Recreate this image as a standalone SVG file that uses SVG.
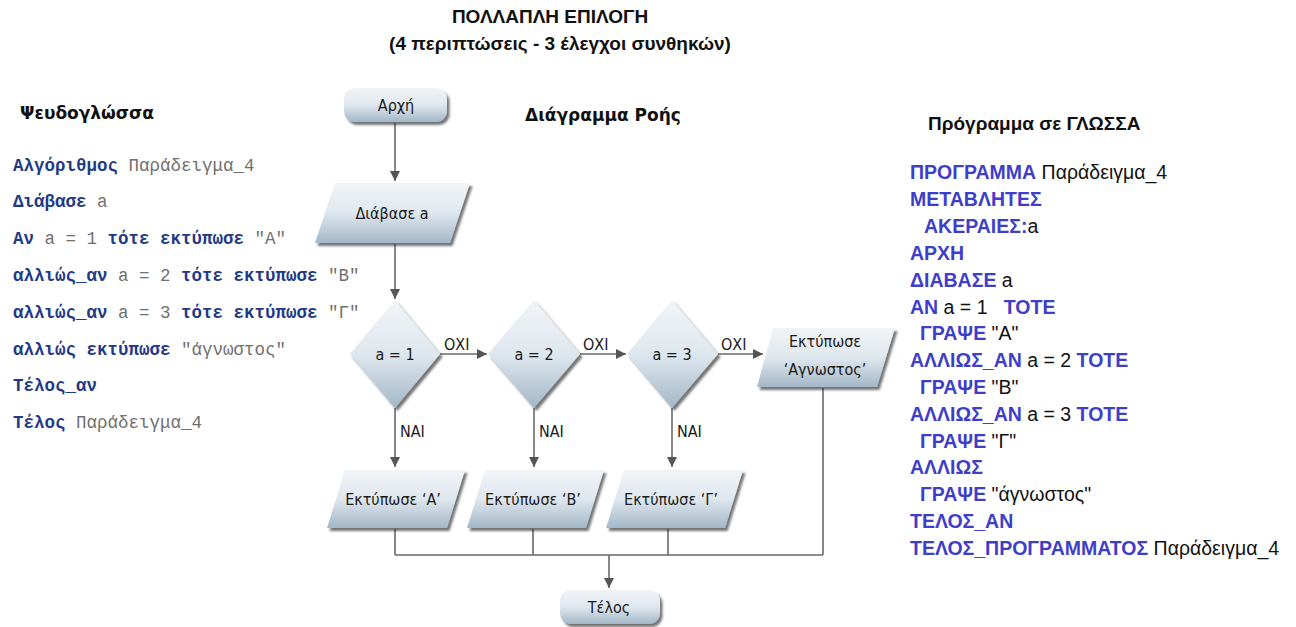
<svg xmlns="http://www.w3.org/2000/svg" width="1296" height="627" viewBox="0 0 1296 627">
<style>
.title{font-family:"Liberation Sans",Arial,sans-serif;font-weight:bold;font-size:19px;fill:#111;}
.head{font-family:"DejaVu Sans",Verdana,sans-serif;font-weight:bold;font-size:17px;fill:#111;}
.ps{font-family:"Liberation Mono","Courier New",monospace;font-size:17.5px;white-space:pre;}
.pk{fill:#1f3a86;font-weight:bold;}
.pv{fill:#707070;}
.gl{font-family:"Liberation Sans",Arial,sans-serif;font-size:19.5px;fill:#111;white-space:pre;}
.gk{fill:#3e3ec8;font-weight:bold;}
.lbl{font-family:"Liberation Sans Narrow","DejaVu Sans Condensed","Liberation Sans",sans-serif;font-stretch:condensed;font-size:16px;fill:#1a1a1a;text-anchor:middle;}
.edge{font-family:"Liberation Sans Narrow","DejaVu Sans Condensed","Liberation Sans",sans-serif;font-stretch:condensed;font-size:16px;fill:#1a1a1a;}
.shape{fill:url(#g);filter:url(#sh);}
.line{stroke:#6a6a6a;stroke-width:1.6;fill:none;}
</style>
<defs>
<linearGradient id="g" x1="0" y1="0" x2="0" y2="1">
<stop offset="0" stop-color="#f1f4f7"/>
<stop offset="0.5" stop-color="#dfe7ee"/>
<stop offset="1" stop-color="#a3b7c7"/>
</linearGradient>
<filter id="sh" x="-20%" y="-20%" width="140%" height="150%">
<feDropShadow dx="2.5" dy="3" stdDeviation="1.2" flood-color="#2a2a2a" flood-opacity="0.65"/>
</filter>
<marker id="ah" viewBox="0 0 10 10" refX="10" refY="5" markerWidth="10" markerHeight="10" markerUnits="userSpaceOnUse" orient="auto">
<path d="M0,0 L10,5 L0,10 Z" fill="#555"/>
</marker>
</defs>

<text class="title" x="550" y="23" text-anchor="middle">ΠΟΛΛΑΠΛΗ ΕΠΙΛΟΓΗ</text>
<text class="title" x="560" y="50" text-anchor="middle">(4 περιπτώσεις - 3 έλεγχοι συνθηκών)</text>

<text class="head" x="20" y="119">Ψευδογλώσσα</text>
<text class="head" x="525" y="121">Διάγραμμα Ροής</text>
<text class="title" x="928" y="130">Πρόγραμμα σε ΓΛΩΣΣΑ</text>

<g id="pseudocode">
<text class="ps" x="13" y="171"><tspan class="pk">Αλγόριθμος</tspan><tspan class="pv"> Παράδειγμα_4</tspan></text>
<text class="ps" x="13" y="207"><tspan class="pk">Διάβασε</tspan><tspan class="pv"> a</tspan></text>
<text class="ps" x="13" y="244"><tspan class="pk">Αν</tspan><tspan class="pv"> a = 1 </tspan><tspan class="pk">τότε εκτύπωσε</tspan><tspan class="pv"> "Α"</tspan></text>
<text class="ps" x="13" y="281"><tspan class="pk">αλλιώς_αν</tspan><tspan class="pv"> a = 2 </tspan><tspan class="pk">τότε εκτύπωσε</tspan><tspan class="pv"> "Β"</tspan></text>
<text class="ps" x="13" y="318"><tspan class="pk">αλλιώς_αν</tspan><tspan class="pv"> a = 3 </tspan><tspan class="pk">τότε εκτύπωσε</tspan><tspan class="pv"> "Γ"</tspan></text>
<text class="ps" x="13" y="355"><tspan class="pk">αλλιώς εκτύπωσε</tspan><tspan class="pv"> "άγνωστος"</tspan></text>
<text class="ps" x="13" y="391"><tspan class="pk">Τέλος_αν</tspan></text>
<text class="ps" x="13" y="428"><tspan class="pk">Τέλος</tspan><tspan class="pv"> Παράδειγμα_4</tspan></text>
</g>

<g id="glossa">
<text class="gl" x="910" y="179"><tspan class="gk">ΠΡΟΓΡΑΜΜΑ</tspan> Παράδειγμα_4</text>
<text class="gl" x="910" y="206"><tspan class="gk">ΜΕΤΑΒΛΗΤΕΣ</tspan></text>
<text class="gl" x="924" y="233"><tspan class="gk">ΑΚΕΡΑΙΕΣ:</tspan>a</text>
<text class="gl" x="910" y="260"><tspan class="gk">ΑΡΧΗ</tspan></text>
<text class="gl" x="910" y="287"><tspan class="gk">ΔΙΑΒΑΣΕ</tspan> a</text>
<text class="gl" x="910" y="314"><tspan class="gk">ΑΝ</tspan> a = 1   <tspan class="gk">ΤΟΤΕ</tspan></text>
<text class="gl" x="920" y="340"><tspan class="gk">ΓΡΑΨΕ</tspan> "Α"</text>
<text class="gl" x="910" y="367"><tspan class="gk">ΑΛΛΙΩΣ_ΑΝ</tspan> a = 2 <tspan class="gk">ΤΟΤΕ</tspan></text>
<text class="gl" x="920" y="394"><tspan class="gk">ΓΡΑΨΕ</tspan> "Β"</text>
<text class="gl" x="910" y="421"><tspan class="gk">ΑΛΛΙΩΣ_ΑΝ</tspan> a = 3 <tspan class="gk">ΤΟΤΕ</tspan></text>
<text class="gl" x="920" y="448"><tspan class="gk">ΓΡΑΨΕ</tspan> "Γ"</text>
<text class="gl" x="910" y="474"><tspan class="gk">ΑΛΛΙΩΣ</tspan></text>
<text class="gl" x="920" y="501"><tspan class="gk">ΓΡΑΨΕ</tspan> "άγνωστος"</text>
<text class="gl" x="910" y="528"><tspan class="gk">ΤΕΛΟΣ_ΑΝ</tspan></text>
<text class="gl" x="910" y="555"><tspan class="gk">ΤΕΛΟΣ_ΠΡΟΓΡΑΜΜΑΤΟΣ</tspan> Παράδειγμα_4</text>
</g>

<g id="connectors">
<line class="line" x1="395" y1="123" x2="395" y2="181" marker-end="url(#ah)"/>
<line class="line" x1="395" y1="244" x2="395" y2="299" marker-end="url(#ah)"/>
<line class="line" x1="440" y1="354" x2="487" y2="354" marker-end="url(#ah)"/>
<line class="line" x1="580" y1="354" x2="626" y2="354" marker-end="url(#ah)"/>
<line class="line" x1="718" y1="354" x2="763" y2="354" marker-end="url(#ah)"/>
<line class="line" x1="395" y1="408" x2="395" y2="467" marker-end="url(#ah)"/>
<line class="line" x1="534" y1="408" x2="534" y2="467" marker-end="url(#ah)"/>
<line class="line" x1="672" y1="408" x2="672" y2="467" marker-end="url(#ah)"/>
<path class="line" d="M395,529 V555 M533,529 V555 M668,529 V555 M823,388 V555 M395,555 H823"/>
<line class="line" x1="609" y1="555" x2="609" y2="588" marker-end="url(#ah)"/>
<text class="edge" x="444" y="350">ΟΧΙ</text>
<text class="edge" x="583" y="350">ΟΧΙ</text>
<text class="edge" x="721" y="350">ΟΧΙ</text>
<text class="edge" x="400" y="437">ΝΑΙ</text>
<text class="edge" x="539" y="437">ΝΑΙ</text>
<text class="edge" x="677" y="437">ΝΑΙ</text>
</g>

<g id="start">
<rect class="shape" x="344" y="88" width="103" height="34" rx="11"/>
<text class="lbl" x="396" y="111">Αρχή</text>
</g>
<g id="read">
<polygon class="shape" points="335,183 470,183 450,243 315,243"/>
<text class="lbl" x="392" y="219">Διάβασε a</text>
</g>
<g id="cond1">
<polygon class="shape" points="395,300 440,354 395,408 350,354"/>
<text class="lbl" x="395" y="360">a = 1</text>
</g>
<g id="cond2">
<polygon class="shape" points="534,300 580,354 534,408 488,354"/>
<text class="lbl" x="534" y="360">a = 2</text>
</g>
<g id="cond3">
<polygon class="shape" points="672,300 718,354 672,408 627,354"/>
<text class="lbl" x="672" y="360">a = 3</text>
</g>
<g id="printUnknown">
<polygon class="shape" points="773,328 895,328 877,387 757,387"/>
<text class="lbl" x="825" y="347">Εκτύπωσε</text>
<text class="lbl" x="825" y="375">‘Αγνωστος’</text>
</g>
<g id="printA">
<polygon class="shape" points="345,470 465,470 447,528 327,528"/>
<text class="lbl" x="393" y="505">Εκτύπωσε ‘Α’</text>
</g>
<g id="printB">
<polygon class="shape" points="485,470 604,470 586,528 467,528"/>
<text class="lbl" x="533" y="505">Εκτύπωσε ‘Β’</text>
</g>
<g id="printG">
<polygon class="shape" points="624,470 743,470 725,528 606,528"/>
<text class="lbl" x="671" y="505">Εκτύπωσε ‘Γ’</text>
</g>
<g id="end">
<rect class="shape" x="560" y="590" width="100" height="34" rx="11"/>
<text class="lbl" x="609" y="613">Τέλος</text>
</g>
</svg>
